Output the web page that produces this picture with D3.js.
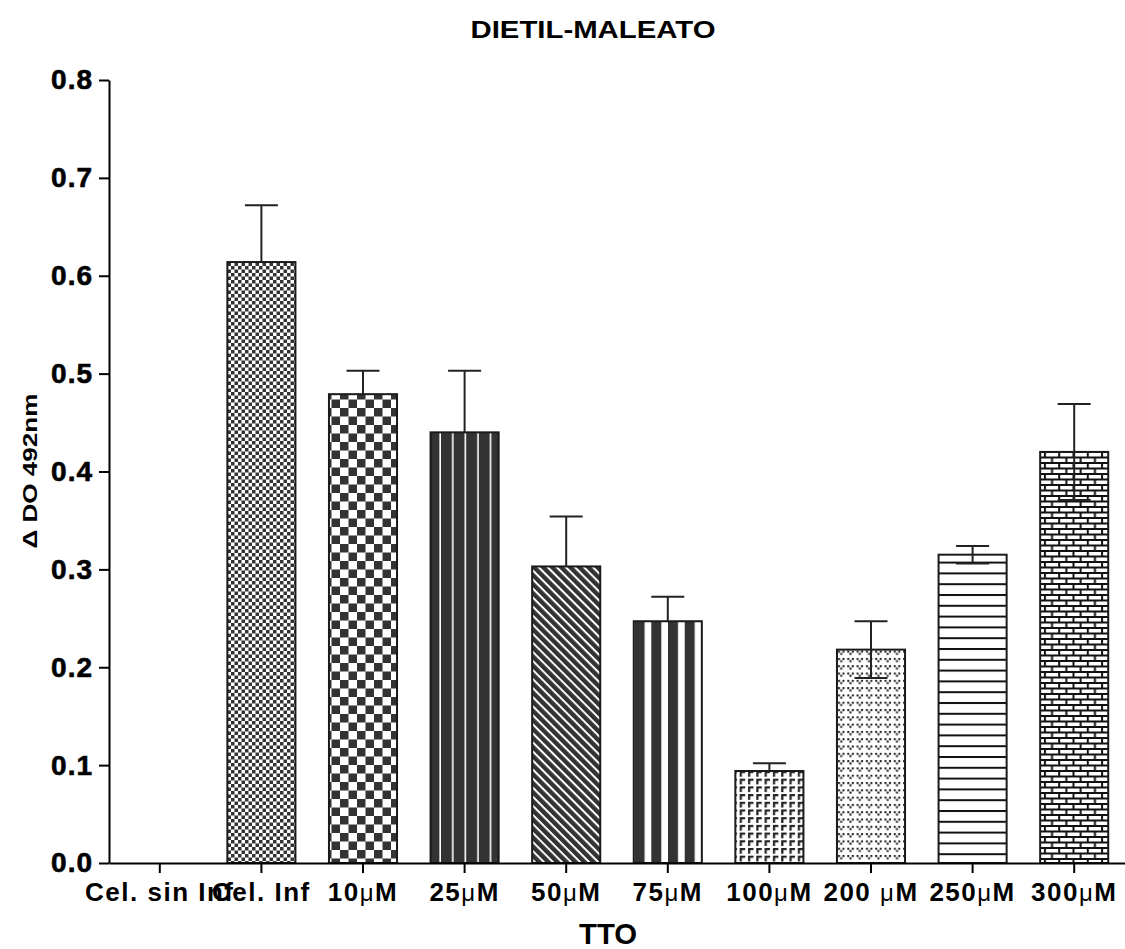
<!DOCTYPE html>
<html lang="en">
  <head>
    <meta charset="UTF-8" />
    <title>DIETIL-MALEATO</title>
    <style>
      body {
        margin: 0;
        background: #fff;
      }

      svg {
        font-family: 'Liberation Sans', Arial, sans-serif;
        font-weight: bold;
      }
    </style>
  </head>
  <body>
    <svg width="1125" height="949"></svg>
    <script src="https://d3js.org/d3.v7.min.js"></script>
    <script>
      // values
      const categories = [
        'Cel. sin Inf', 'Cel. Inf', '10μM', '25μM', '50μM',
        '75μM', '100μM', '200 μM', '250μM', '300μM',
      ];
      const means = [0, 0.614, 0.479, 0.44, 0.303, 0.247, 0.094, 0.218, 0.315, 0.42];
      const errors = [0, 0.058, 0.024, 0.063, 0.051, 0.025, 0.008, 0.029, 0.009, 0.049];
      const lowerShown = [false, false, false, false, false, false, false, true, true, true];
      const patterns = [
        'none', 'fineCheck', 'bigCheck', 'thinWhite', 'diag',
        'wideStripe', 'gamma', 'vdots', 'hlines', 'brick',
      ];
      const yTicks = [0, 0.1, 0.2, 0.3, 0.4, 0.5, 0.6, 0.7, 0.8];

      const svg = d3.select('svg'),
        width = +svg.attr('width'),
        margin = { top: 80, left: 109, bottom: 86 },
        y0 = +svg.attr('height') - margin.bottom;

      const x = d3
        .scaleBand()
        .domain(categories)
        .range([margin.left, width])
        .paddingInner(0.33)
        .paddingOuter(0.165);

      const y = d3.scaleLinear().domain([0, 0.8]).range([y0, margin.top]);

      const dark = '#333';
      const defs = svg.append('defs');

      function pat(id, w, h, transform) {
        const p = defs
          .append('pattern')
          .attr('id', id)
          .attr('patternUnits', 'userSpaceOnUse')
          .attr('width', w)
          .attr('height', h);
        if (transform) p.attr('patternTransform', transform);
        p.append('rect').attr('width', w).attr('height', h).attr('fill', '#fff');
        return p;
      }

      let p = pat('fineCheck', 7, 7);
      p.append('rect').attr('width', 3.5).attr('height', 3.5).attr('fill', dark);
      p.append('rect').attr('x', 3.5).attr('y', 3.5).attr('width', 3.5).attr('height', 3.5).attr('fill', dark);

      p = pat('bigCheck', 17, 17);
      p.append('rect').attr('width', 8.5).attr('height', 8.5).attr('fill', dark);
      p.append('rect').attr('x', 8.5).attr('y', 8.5).attr('width', 8.5).attr('height', 8.5).attr('fill', dark);

      p = pat('thinWhite', 12.6, 10);
      p.append('rect').attr('width', 11).attr('height', 10).attr('fill', dark);

      p = pat('diag', 6.4, 10, 'rotate(-45)');
      p.append('rect').attr('width', 4.4).attr('height', 10).attr('fill', dark);

      p = pat('wideStripe', 16.7, 10);
      p.append('rect').attr('width', 10).attr('height', 10).attr('fill', dark);

      p = pat('gamma', 8.3, 7.7);
      p.append('path').attr('d', 'M1,1h5.5v2.2h-3.3v3.5h-2.2z').attr('fill', '#222');

      p = pat('vdots', 9.3, 7.3);
      p.append('path')
        .attr('d', 'M1,1h2v2h-2z M5.5,1h2v2h-2z M3.2,3.2h2v2h-2z')
        .attr('fill', '#222');

      p = pat('hlines', 10, 10.8);
      p.append('rect').attr('width', 10).attr('height', 2).attr('fill', '#111');

      p = pat('brick', 14.3, 11);
      p.append('path')
        .attr('d', 'M0,0h14.3v2h-14.3z M0,5.5h14.3v2h-14.3z M0,0h2v5.5h-2z M7.15,5.5h2v5.5h-2z')
        .attr('fill', '#111');

      // bars
      svg
        .append('g')
        .selectAll('rect')
        .data(categories.filter((c, i) => means[i] > 0))
        .join('rect')
        .attr('x', (d) => x(d))
        .attr('y', (d) => y(means[categories.indexOf(d)]))
        .attr('width', x.bandwidth())
        .attr('height', (d) => y0 - y(means[categories.indexOf(d)]))
        .attr('fill', (d) => 'url(#' + patterns[categories.indexOf(d)] + ')')
        .attr('stroke', '#1a1a1a')
        .attr('stroke-width', 2);

      // error bars
      const capW = 33;
      const err = svg
        .append('g')
        .attr('stroke', '#222')
        .attr('stroke-width', 2)
        .selectAll('g')
        .data(categories.filter((c, i) => errors[i] > 0))
        .join('g')
        .attr('transform', (d) => `translate(${x(d) + x.bandwidth() / 2},0)`);

      err
        .append('line')
        .attr('y1', (d) => {
          const i = categories.indexOf(d);
          return lowerShown[i] ? y(means[i] - errors[i]) : y(means[i]);
        })
        .attr('y2', (d) => {
          const i = categories.indexOf(d);
          return y(means[i] + errors[i]);
        });

      err
        .append('line')
        .attr('x1', -capW / 2)
        .attr('x2', capW / 2)
        .attr('y1', (d) => y(means[categories.indexOf(d)] + errors[categories.indexOf(d)]))
        .attr('y2', (d) => y(means[categories.indexOf(d)] + errors[categories.indexOf(d)]));

      err
        .filter((d) => lowerShown[categories.indexOf(d)])
        .append('line')
        .attr('x1', -capW / 2)
        .attr('x2', capW / 2)
        .attr('y1', (d) => y(means[categories.indexOf(d)] - errors[categories.indexOf(d)]))
        .attr('y2', (d) => y(means[categories.indexOf(d)] - errors[categories.indexOf(d)]));

      // axes
      const yAxis = svg
        .append('g')
        .attr('transform', `translate(${margin.left},0)`)
        .call(
          d3
            .axisLeft(y)
            .tickValues(yTicks)
            .tickFormat(d3.format('.1f'))
            .tickSize(10)
            .tickPadding(6)
            .tickSizeOuter(0)
        );

      yAxis.select('.domain').attr('stroke-width', 2);
      yAxis.selectAll('.tick line').attr('stroke-width', 2);
      yAxis
        .selectAll('text')
        .attr('font-size', 28)
        .attr('font-family', null)
        .attr('letter-spacing', 1)
        .attr('stroke', '#000')
        .attr('stroke-width', 0.6)
        .attr('fill', '#000');

      const xAxis = svg
        .append('g')
        .attr('transform', `translate(0,${y0})`)
        .call(d3.axisBottom(x).tickSize(10).tickSizeOuter(0));

      xAxis.select('.domain').attr('stroke-width', 2);
      xAxis.selectAll('.tick line').attr('stroke-width', 2);
      xAxis
        .selectAll('.tick text')
        .attr('font-size', 26)
        .attr('font-family', null)
        .attr('letter-spacing', 1.5)
        .attr('fill', '#000')
        .attr('y', 38)
        .attr('dy', null)
        .each(function (d) {
          const t = d3.select(this).text('');
          d.split(/(μ)/).forEach((part) => {
            if (!part) return;
            const s = t.append('tspan').text(part);
            if (part === 'μ') s.attr('font-weight', 'normal').attr('font-size', 24);
          });
        });

      // titles
      svg
        .append('text')
        .attr('x', 593)
        .attr('y', 38)
        .attr('text-anchor', 'middle')
        .attr('font-size', 23)
        .attr('textLength', 245)
        .attr('lengthAdjust', 'spacingAndGlyphs')
        .text('DIETIL-MALEATO');

      svg
        .append('text')
        .attr('transform', 'translate(37,471) rotate(-90)')
        .attr('text-anchor', 'middle')
        .attr('font-size', 21)
        .attr('textLength', 155)
        .attr('lengthAdjust', 'spacingAndGlyphs')
        .text('Δ DO 492nm');

      svg
        .append('text')
        .attr('x', 608)
        .attr('y', 944)
        .attr('text-anchor', 'middle')
        .attr('font-size', 30)
        .attr('textLength', 58)
        .attr('lengthAdjust', 'spacingAndGlyphs')
        .text('TTO');
    </script>
  </body>
</html>
